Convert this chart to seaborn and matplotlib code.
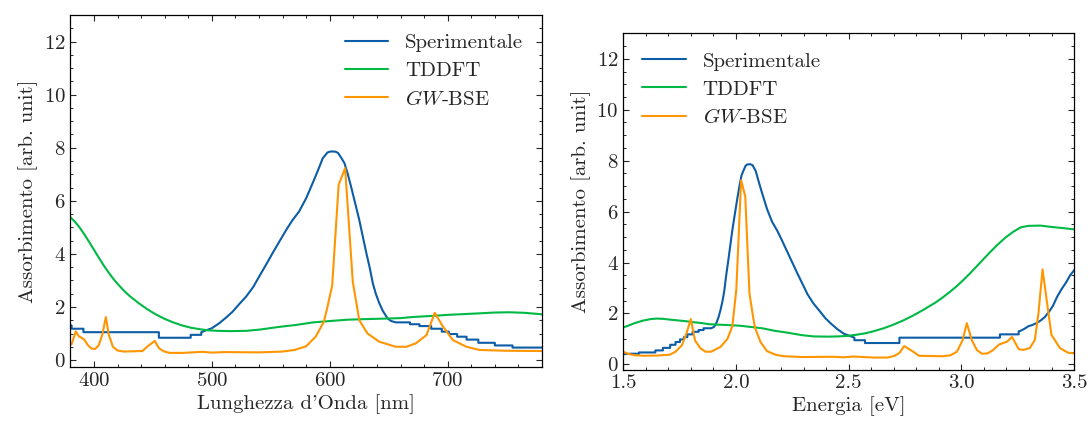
import numpy as np
import pandas as pd
import matplotlib
matplotlib.use("Agg")
import matplotlib.pyplot as plt
import seaborn as sns
from matplotlib.ticker import MultipleLocator

# ---------------- data ----------------
# Experimental spectrum (wavelength in nm, absorbance)
exp_nm = [354, 356, 358, 360, 362, 364, 366, 368, 370, 372, 374, 376, 378, 380,
          381, 381, 391, 391, 455, 455, 482, 482, 491, 491,
          495, 500, 506, 512, 517.5, 523, 529, 535, 540, 546, 551.5, 557, 563, 568,
          574, 580, 585.5, 590, 594, 598, 601, 605, 607, 610, 612.4, 615, 618, 621,
          625, 628, 631, 634, 636.5, 639, 642, 645, 649, 652, 656,
          668, 668, 676, 676, 686, 686, 695, 695, 701, 701, 708, 708, 716, 716,
          726, 726, 740, 740, 755, 755, 790, 790, 810, 827]
exp_abs = [3.72, 3.5, 3.2, 2.95, 2.66, 2.3, 2.05, 1.85, 1.72, 1.62, 1.55, 1.5, 1.4, 1.32,
           1.3, 1.18, 1.18, 1.05, 1.05, 0.84, 0.84, 0.95, 0.95, 1.05,
           1.12, 1.2, 1.38, 1.6, 1.82, 2.1, 2.39, 2.75, 3.14, 3.6, 4.03, 4.45, 4.9, 5.25,
           5.6, 6.1, 6.67, 7.15, 7.6, 7.82, 7.86, 7.85, 7.8, 7.6, 7.42, 7.05, 6.54, 6.0,
           5.28, 4.65, 4.03, 3.45, 2.89, 2.5, 2.14, 1.85, 1.57, 1.47, 1.42,
           1.42, 1.35, 1.35, 1.28, 1.28, 1.18, 1.18, 1.07, 1.07, 0.98, 0.98, 0.88, 0.88, 0.77,
           0.77, 0.65, 0.65, 0.55, 0.55, 0.47, 0.47, 0.42, 0.42, 0.4]

# TDDFT spectrum
tddft_nm = [354, 359, 365, 370, 376, 380, 384, 388, 392, 396, 400, 404, 408, 412, 416,
            420, 425, 430, 438, 445, 452, 460, 467, 475, 482, 490, 497, 505, 515, 529,
            541, 557, 571, 586, 600, 615, 628, 645, 660, 670, 689, 699, 713, 727, 740,
            752, 765, 781, 800, 815, 827]
tddft_abs = [5.3, 5.35, 5.4, 5.45, 5.44, 5.38, 5.2, 4.98, 4.72, 4.44, 4.15, 3.86, 3.58, 3.32, 3.08,
             2.87, 2.63, 2.42, 2.14, 1.92, 1.73, 1.55, 1.42, 1.3, 1.22, 1.16, 1.12, 1.1, 1.09, 1.1,
             1.15, 1.25, 1.32, 1.42, 1.47, 1.52, 1.54, 1.56, 1.58, 1.62, 1.67, 1.7, 1.73, 1.76, 1.79,
             1.8, 1.78, 1.72, 1.62, 1.52, 1.45]

# GW-BSE spectrum
gw_nm = [354.5, 357, 360.7, 364.7, 367, 369, 371, 372.8, 375.3, 378.6, 381, 384.5, 387,
         391.5, 395, 398, 401, 404, 407, 410, 412.5, 416, 420, 425, 441, 445, 451.5,
         455, 459, 464, 475, 492, 500, 510, 540, 560, 570, 580, 588, 595, 598, 602,
         607.5, 613, 619.5, 625, 632, 642, 656, 665, 673, 682, 689, 696, 704.5, 716,
         727, 750, 780, 800, 816, 827]
gw_abs = [0.44, 0.46, 0.64, 1.16, 2.53, 3.73, 2.0, 0.96, 0.64, 0.57, 0.6, 1.08, 0.9,
          0.78, 0.55, 0.43, 0.42, 0.56, 0.95, 1.62, 0.96, 0.5, 0.36, 0.32, 0.34, 0.5, 0.72,
          0.45, 0.33, 0.27, 0.27, 0.31, 0.28, 0.3, 0.29, 0.32, 0.38, 0.52, 0.88, 1.45, 2.0, 2.8,
          6.6, 7.23, 2.95, 1.5, 1.0, 0.69, 0.5, 0.5, 0.63, 0.94, 1.78, 1.26, 0.75, 0.5,
          0.38, 0.35, 0.34, 0.36, 0.42, 0.5]

series_names = ["Sperimentale", "TDDFT", "$GW$-BSE"]
colors = ["#0C5DA5", "#00B945", "#FF9500"]
HC = 1239.84  # eV*nm, wavelength -> energy conversion

# ---------------- style ----------------
sns.set_style("ticks")
FS = 15
plt.rcParams.update({
    "font.family": "serif",
    "font.serif": ["cmr10", "DejaVu Serif"],
    "mathtext.fontset": "cm",
    "axes.formatter.use_mathtext": True,
    "axes.unicode_minus": False,
    "font.size": FS,
    "axes.linewidth": 0.9,
    "axes.edgecolor": "black",
    "xtick.direction": "in",
    "ytick.direction": "in",
    "xtick.top": True,
    "ytick.right": True,
    "xtick.major.size": 4,
    "ytick.major.size": 4,
    "xtick.minor.size": 2,
    "ytick.minor.size": 2,
    "xtick.major.width": 0.8,
    "ytick.major.width": 0.8,
    "xtick.minor.width": 0.7,
    "ytick.minor.width": 0.7,
    "xtick.minor.visible": True,
    "ytick.minor.visible": True,
    "xtick.labelsize": FS,
    "ytick.labelsize": FS,
    "axes.labelsize": FS,
    "legend.fontsize": FS,
})

fig = plt.figure(figsize=(10.89, 4.21), dpi=100)
ax1 = fig.add_axes([0.0647, 0.129, 0.433, 0.8354])
ax2 = fig.add_axes([0.5724, 0.1223, 0.4139, 0.7986])

data_nm = [(exp_nm, exp_abs), (tddft_nm, tddft_abs), (gw_nm, gw_abs)]

for (xs, ys), name, c in zip(data_nm, series_names, colors):
    df = pd.DataFrame({"nm": xs, "A": ys})
    df["eV"] = HC / df["nm"]
    sns.lineplot(data=df, x="nm", y="A", ax=ax1, color=c, linewidth=1.5,
                 sort=False, estimator=None, label=name)
    sns.lineplot(data=df, x="eV", y="A", ax=ax2, color=c, linewidth=1.5,
                 sort=False, estimator=None, label=name)

ax1.set_xlim(380, 780)
ax1.set_ylim(-0.25, 13)
ax1.xaxis.set_major_locator(MultipleLocator(100))
ax1.xaxis.set_minor_locator(MultipleLocator(20))
ax1.yaxis.set_major_locator(MultipleLocator(2))
ax1.yaxis.set_minor_locator(MultipleLocator(0.5))
ax1.set_xlabel("Lunghezza d'Onda [nm]", labelpad=3)
ax1.set_ylabel("Assorbimento [arb. unit]")

ax2.set_xlim(1.5, 3.5)
ax2.set_ylim(-0.2, 13)
ax2.xaxis.set_major_locator(MultipleLocator(0.5))
ax2.xaxis.set_minor_locator(MultipleLocator(0.1))
ax2.yaxis.set_major_locator(MultipleLocator(2))
ax2.yaxis.set_minor_locator(MultipleLocator(0.5))
ax2.set_xlabel("Energia [eV]", labelpad=3)
ax2.set_ylabel("Assorbimento [arb. unit]")
ax2.xaxis.set_major_formatter(matplotlib.ticker.FormatStrFormatter("%.1f"))

for ax, loc in [(ax1, "upper right"), (ax2, "upper left")]:
    ax.legend(loc=loc, frameon=False, handlelength=2.1, handletextpad=0.8,
              labelspacing=0.45)
    for s in ax.spines.values():
        s.set_visible(True)

fig.savefig("out.png", dpi=100)
